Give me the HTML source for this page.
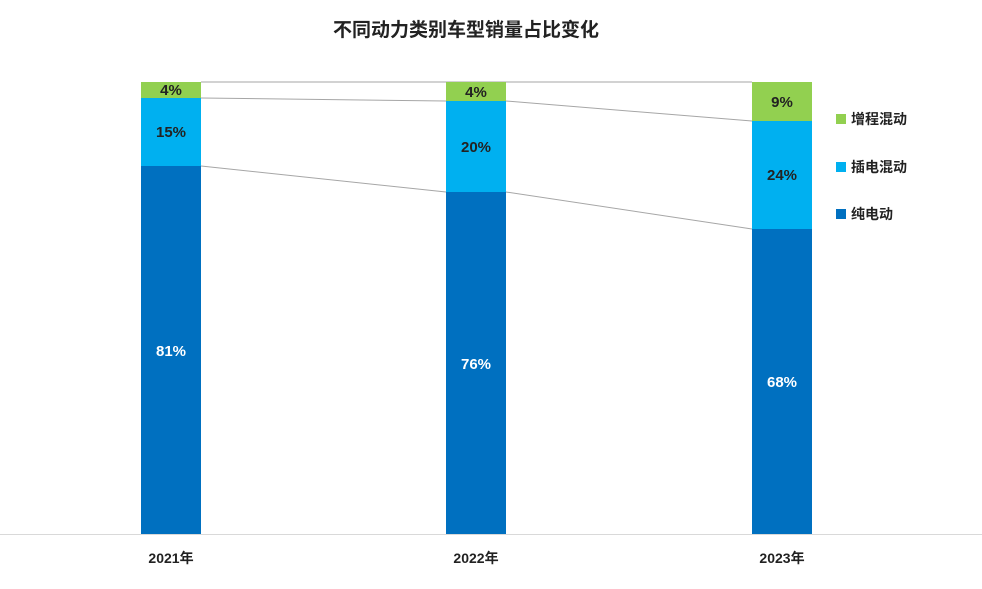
<!DOCTYPE html>
<html><head><meta charset="utf-8"><style>
body{margin:0;background:#fff;}
svg text{font-family:"Liberation Sans","Noto Sans CJK SC",sans-serif;font-weight:bold;}
</style></head><body>
<svg width="982" height="584" xmlns="http://www.w3.org/2000/svg">
<rect width="982" height="584" fill="#fff"/>
<text x="466" y="36" text-anchor="middle" font-size="19" fill="#222">不同动力类别车型销量占比变化</text>
<line x1="0" y1="534.5" x2="982" y2="534.5" stroke="#d9d9d9" stroke-width="1"/>
<g stroke="#a6a6a6" stroke-width="1">
<line x1="201" y1="82" x2="752" y2="82"/>
<line x1="201" y1="98" x2="446" y2="101"/><line x1="506" y1="101" x2="752" y2="121"/>
<line x1="201" y1="166" x2="446" y2="192"/><line x1="506" y1="192" x2="752" y2="229"/>
</g>
<rect x="141" y="82" width="60" height="16" fill="#92D050"/>
<rect x="141" y="98" width="60" height="68" fill="#00B0F0"/>
<rect x="141" y="166" width="60" height="368" fill="#0070C0"/>
<rect x="446" y="82" width="60" height="19" fill="#92D050"/>
<rect x="446" y="101" width="60" height="91" fill="#00B0F0"/>
<rect x="446" y="192" width="60" height="342" fill="#0070C0"/>
<rect x="752" y="82" width="60" height="39" fill="#92D050"/>
<rect x="752" y="121" width="60" height="108" fill="#00B0F0"/>
<rect x="752" y="229" width="60" height="305" fill="#0070C0"/>
<g font-size="15" text-anchor="middle" fill="#222">
<text x="171" y="95">4%</text><text x="171" y="137">15%</text>
<text x="476" y="97">4%</text><text x="476" y="152">20%</text>
<text x="782" y="107">9%</text><text x="782" y="180">24%</text>
</g>
<g font-size="15" text-anchor="middle" fill="#fff">
<text x="171" y="356">81%</text><text x="476" y="369">76%</text><text x="782" y="387">68%</text>
</g>
<g font-size="14" text-anchor="middle" fill="#222">
<text x="171" y="563">2021年</text><text x="476" y="563">2022年</text><text x="782" y="563">2023年</text>
</g>
<rect x="836" y="114" width="10" height="10" fill="#92D050"/>
<rect x="836" y="162" width="10" height="10" fill="#00B0F0"/>
<rect x="836" y="209" width="10" height="10" fill="#0070C0"/>
<g font-size="14" fill="#222">
<text x="851" y="124">增程混动</text><text x="851" y="172">插电混动</text><text x="851" y="219">纯电动</text>
</g>
</svg>
</body></html>
